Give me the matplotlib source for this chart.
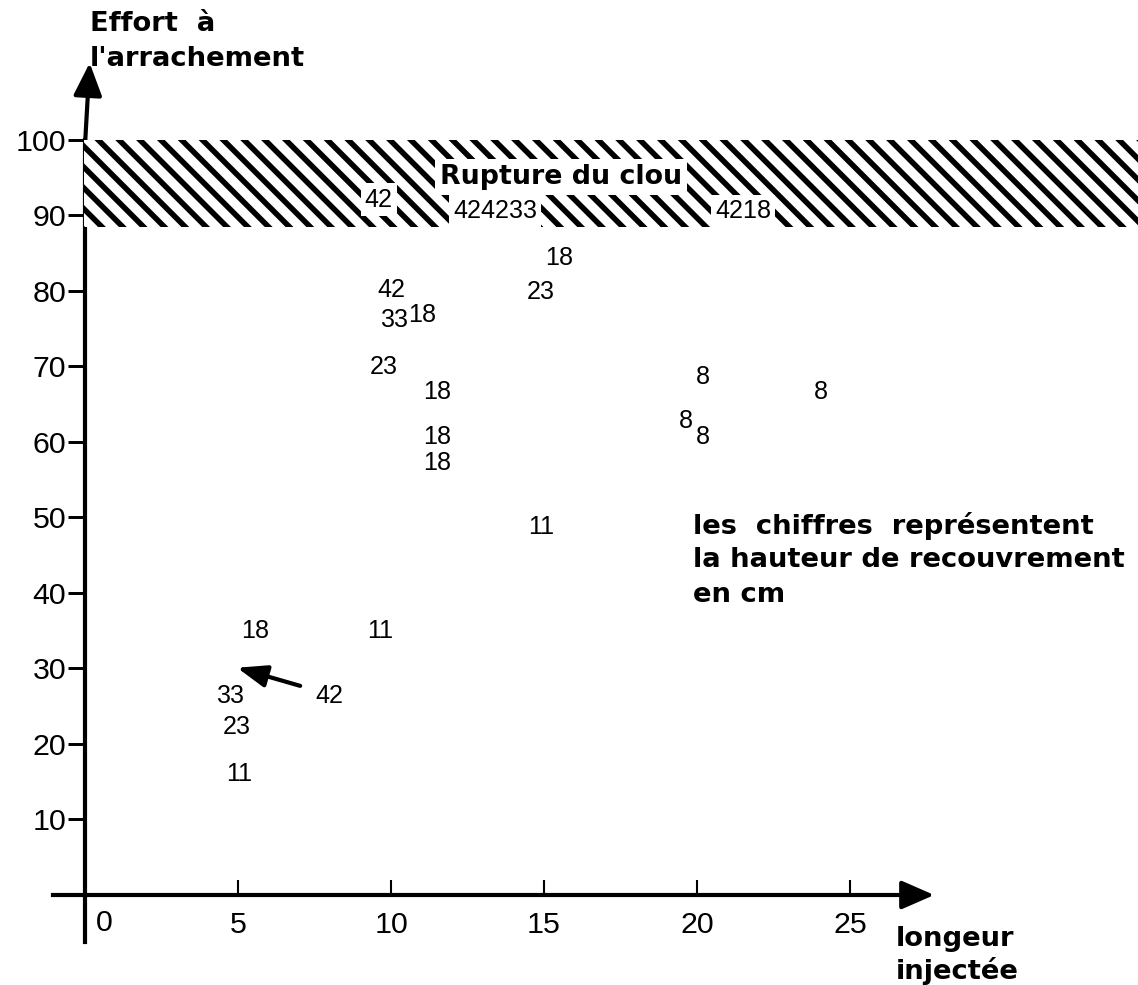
import matplotlib
matplotlib.use('Agg')
import matplotlib.pyplot as plt
from matplotlib.patches import Rectangle

plt.rcParams['font.family'] = ['Liberation Sans', 'DejaVu Sans']
plt.rcParams['hatch.color'] = 'black'
plt.rcParams['hatch.linewidth'] = 3.2

# hauteur de recouvrement (cm), longueur injectee, effort a l'arrachement
cover = ['18', '23', '42', '33', '18', '23', '18', '18', '18', '11',
         '8', '8', '8', '8', '18', '11', '33', '42', '23', '11']
length = [15.5, 14.9, 10.0, 10.1, 11.0, 9.75, 11.5, 11.5, 11.5, 14.9,
          20.2, 19.65, 20.2, 24.05, 5.55, 9.65, 4.75, 8.0, 4.95, 5.05]
effort = [84.4, 79.8, 80.1, 76.2, 76.8, 69.9, 66.6, 60.7, 57.2, 48.8,
          68.6, 62.8, 60.7, 66.6, 35.0, 35.0, 26.4, 26.4, 22.2, 16.0]

# clous rompus (dans la bande hachuree)
broken = ['42', '424233', '4218']
broken_len = [9.6, 13.4, 21.5]
broken_eff = [92.1, 90.6, 90.6]

band_low, band_high = 88.5, 100
xticks = [5, 10, 15, 20, 25]
yticks = [10, 20, 30, 40, 50, 60, 70, 80, 90, 100]

fig = plt.figure(figsize=(9.104, 7.88), dpi=125)
ax = fig.add_axes([0, 0, 1, 1])
ax.set_xlim(-2.78, 34.41)
ax.set_ylim(-11.92, 118.54)

for s in ['top', 'right']:
    ax.spines[s].set_visible(False)
ax.spines['left'].set_position(('data', 0))
ax.spines['bottom'].set_position(('data', 0))
ax.spines['left'].set_bounds(-6.2, 100)
ax.spines['bottom'].set_bounds(-1.05, 27)
ax.spines['left'].set_linewidth(2.4)
ax.spines['bottom'].set_linewidth(2.4)

ax.set_yticks(yticks)
ax.set_yticklabels([str(v) for v in yticks])
ax.set_xticks(xticks)
ax.set_xticklabels([str(v) for v in xticks])
ax.tick_params(axis='y', direction='out', length=9.8, width=1.7, pad=1.2, labelsize=17.5)
ax.tick_params(axis='x', direction='in', length=8.6, width=1.2, pad=9, labelsize=17.5)
ax.text(0.35, -3.7, '0', fontsize=17.5, ha='left', va='center')

# fleches des axes
head = '-|>,head_length=0.8,head_width=0.35'
ax.annotate('', xy=(0.15, 110.2), xytext=(0, 99.5),
            arrowprops=dict(arrowstyle=head, lw=2.4, color='black',
                            mutation_scale=20, shrinkA=0, shrinkB=0))
ax.annotate('', xy=(27.75, 0), xytext=(26.9, 0),
            arrowprops=dict(arrowstyle=head, lw=2.4, color='black',
                            mutation_scale=20, shrinkA=0, shrinkB=0))

# bande de rupture
ax.add_patch(Rectangle((-0.05, band_low), 34.6, band_high - band_low,
                       facecolor='white', edgecolor='black', lw=0,
                       hatch='\\\\', zorder=3))

ax.text(15.55, 95.1, 'Rupture du clou', family='DejaVu Sans', weight='bold',
        fontsize=15.5, ha='center', va='center', zorder=4,
        bbox=dict(facecolor='white', edgecolor='none', pad=3))
for lab, xv, yv in zip(broken, broken_len, broken_eff):
    ax.text(xv, yv, lab, fontsize=14.5, ha='center', va='center', zorder=4,
            bbox=dict(facecolor='white', edgecolor='none', pad=2.5))

for lab, xv, yv in zip(cover, length, effort):
    ax.text(xv, yv, lab, fontsize=14.5, ha='center', va='center')

ax.annotate('', xy=(4.97, 30.1), xytext=(7.03, 27.7),
            arrowprops=dict(arrowstyle='-|>,head_length=0.8,head_width=0.3',
                            lw=2.4, color='black', mutation_scale=18,
                            shrinkA=0, shrinkB=0))

bold = dict(family='DejaVu Sans', weight='bold', fontsize=15.8, ha='left', va='center')
ax.text(0.16, 115.4, 'Effort  à', **bold)
ax.text(0.16, 110.7, "l'arrachement", **bold)
ax.text(26.5, -5.8, 'longeur', **bold)
ax.text(26.5, -10.1, 'injectée', **bold)
ax.text(19.87, 48.9, 'les  chiffres  représentent', **bold)
ax.text(19.87, 44.4, 'la hauteur de recouvrement', **bold)
ax.text(19.87, 39.7, 'en cm', **bold)

fig.savefig('out.png', dpi=125)
